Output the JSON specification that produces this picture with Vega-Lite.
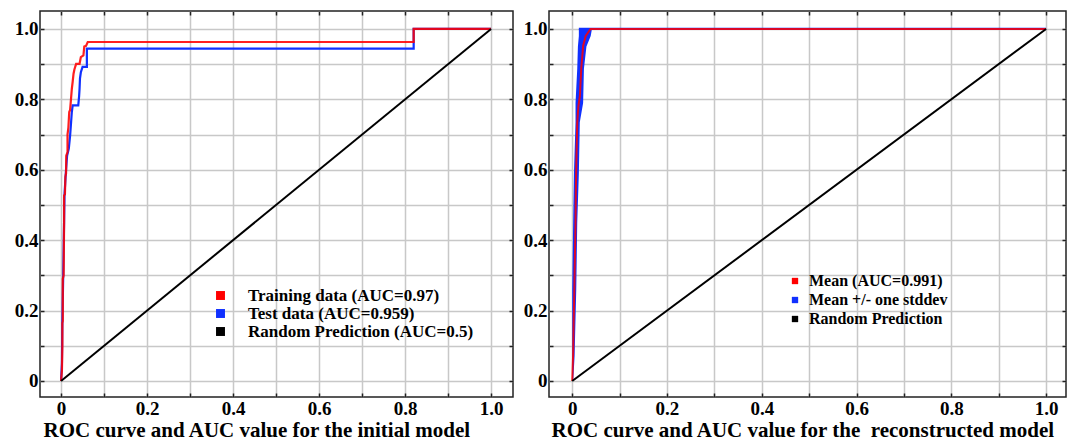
{
  "$schema": "https://vega.github.io/schema/vega-lite/v6.json",
  "padding": {"left": 13, "top": 9, "right": 0, "bottom": 0},
  "spacing": 7,
  "background": "white",
  "datasets": {
    "roc": [
      {"p": "L", "s": "train", "i": 0, "x": 0, "y": 0},
      {"p": "L", "s": "train", "i": 1, "x": 0.002, "y": 0.03},
      {"p": "L", "s": "train", "i": 2, "x": 0.003, "y": 0.1},
      {"p": "L", "s": "train", "i": 3, "x": 0.003, "y": 0.165},
      {"p": "L", "s": "train", "i": 4, "x": 0.004, "y": 0.17},
      {"p": "L", "s": "train", "i": 5, "x": 0.004, "y": 0.29},
      {"p": "L", "s": "train", "i": 6, "x": 0.006, "y": 0.3},
      {"p": "L", "s": "train", "i": 7, "x": 0.007, "y": 0.45},
      {"p": "L", "s": "train", "i": 8, "x": 0.007, "y": 0.527},
      {"p": "L", "s": "train", "i": 9, "x": 0.009, "y": 0.53},
      {"p": "L", "s": "train", "i": 10, "x": 0.01, "y": 0.58},
      {"p": "L", "s": "train", "i": 11, "x": 0.0116, "y": 0.59},
      {"p": "L", "s": "train", "i": 12, "x": 0.012, "y": 0.64},
      {"p": "L", "s": "train", "i": 13, "x": 0.015, "y": 0.65},
      {"p": "L", "s": "train", "i": 14, "x": 0.015, "y": 0.7},
      {"p": "L", "s": "train", "i": 15, "x": 0.017, "y": 0.72},
      {"p": "L", "s": "train", "i": 16, "x": 0.019, "y": 0.764},
      {"p": "L", "s": "train", "i": 17, "x": 0.021, "y": 0.77},
      {"p": "L", "s": "train", "i": 18, "x": 0.0225, "y": 0.792},
      {"p": "L", "s": "train", "i": 19, "x": 0.025, "y": 0.83},
      {"p": "L", "s": "train", "i": 20, "x": 0.027, "y": 0.85},
      {"p": "L", "s": "train", "i": 21, "x": 0.029, "y": 0.873},
      {"p": "L", "s": "train", "i": 22, "x": 0.031, "y": 0.885},
      {"p": "L", "s": "train", "i": 23, "x": 0.035, "y": 0.901},
      {"p": "L", "s": "train", "i": 24, "x": 0.043, "y": 0.901},
      {"p": "L", "s": "train", "i": 25, "x": 0.046, "y": 0.92},
      {"p": "L", "s": "train", "i": 26, "x": 0.052, "y": 0.925},
      {"p": "L", "s": "train", "i": 27, "x": 0.054, "y": 0.95},
      {"p": "L", "s": "train", "i": 28, "x": 0.058, "y": 0.952},
      {"p": "L", "s": "train", "i": 29, "x": 0.062, "y": 0.963},
      {"p": "L", "s": "train", "i": 30, "x": 0.82, "y": 0.963},
      {"p": "L", "s": "train", "i": 31, "x": 0.82, "y": 1.0},
      {"p": "L", "s": "train", "i": 32, "x": 1.0, "y": 1.0},
      {"p": "L", "s": "test", "i": 0, "x": 0, "y": 0},
      {"p": "L", "s": "test", "i": 1, "x": 0.002, "y": 0.05},
      {"p": "L", "s": "test", "i": 2, "x": 0.003, "y": 0.17},
      {"p": "L", "s": "test", "i": 3, "x": 0.005, "y": 0.3},
      {"p": "L", "s": "test", "i": 4, "x": 0.007, "y": 0.45},
      {"p": "L", "s": "test", "i": 5, "x": 0.008, "y": 0.53},
      {"p": "L", "s": "test", "i": 6, "x": 0.011, "y": 0.59},
      {"p": "L", "s": "test", "i": 7, "x": 0.014, "y": 0.64},
      {"p": "L", "s": "test", "i": 8, "x": 0.018, "y": 0.66},
      {"p": "L", "s": "test", "i": 9, "x": 0.021, "y": 0.697},
      {"p": "L", "s": "test", "i": 10, "x": 0.023, "y": 0.73},
      {"p": "L", "s": "test", "i": 11, "x": 0.025, "y": 0.764},
      {"p": "L", "s": "test", "i": 12, "x": 0.027, "y": 0.783},
      {"p": "L", "s": "test", "i": 13, "x": 0.04, "y": 0.783},
      {"p": "L", "s": "test", "i": 14, "x": 0.042, "y": 0.81},
      {"p": "L", "s": "test", "i": 15, "x": 0.043, "y": 0.83},
      {"p": "L", "s": "test", "i": 16, "x": 0.044, "y": 0.86},
      {"p": "L", "s": "test", "i": 17, "x": 0.046, "y": 0.877},
      {"p": "L", "s": "test", "i": 18, "x": 0.05, "y": 0.892},
      {"p": "L", "s": "test", "i": 19, "x": 0.06, "y": 0.892},
      {"p": "L", "s": "test", "i": 20, "x": 0.06, "y": 0.944},
      {"p": "L", "s": "test", "i": 21, "x": 0.82, "y": 0.944},
      {"p": "L", "s": "test", "i": 22, "x": 0.82, "y": 1.0},
      {"p": "L", "s": "test", "i": 23, "x": 1.0, "y": 1.0},
      {"p": "L", "s": "rand", "i": 0, "x": 0, "y": 0},
      {"p": "L", "s": "rand", "i": 1, "x": 1, "y": 1},
      {"p": "R", "s": "mean", "i": 0, "x": 0, "y": 0},
      {"p": "R", "s": "mean", "i": 1, "x": 0.002, "y": 0.08},
      {"p": "R", "s": "mean", "i": 2, "x": 0.003, "y": 0.165},
      {"p": "R", "s": "mean", "i": 3, "x": 0.0045, "y": 0.26},
      {"p": "R", "s": "mean", "i": 4, "x": 0.0057, "y": 0.355},
      {"p": "R", "s": "mean", "i": 5, "x": 0.007, "y": 0.45},
      {"p": "R", "s": "mean", "i": 6, "x": 0.0077, "y": 0.545},
      {"p": "R", "s": "mean", "i": 7, "x": 0.009, "y": 0.64},
      {"p": "R", "s": "mean", "i": 8, "x": 0.0106, "y": 0.735},
      {"p": "R", "s": "mean", "i": 9, "x": 0.013, "y": 0.78},
      {"p": "R", "s": "mean", "i": 10, "x": 0.0162, "y": 0.81},
      {"p": "R", "s": "mean", "i": 11, "x": 0.019, "y": 0.887},
      {"p": "R", "s": "mean", "i": 12, "x": 0.0232, "y": 0.953},
      {"p": "R", "s": "mean", "i": 13, "x": 0.0285, "y": 0.98},
      {"p": "R", "s": "mean", "i": 14, "x": 0.0387, "y": 1.0},
      {"p": "R", "s": "mean", "i": 15, "x": 1.0, "y": 1.0},
      {"p": "R", "s": "bandtop", "i": 0, "x": 0.014, "y": 1.0},
      {"p": "R", "s": "bandtop", "i": 1, "x": 1.0, "y": 1.0},
      {"p": "R", "s": "rand", "i": 0, "x": 0, "y": 0},
      {"p": "R", "s": "rand", "i": 1, "x": 1, "y": 1}
    ],
    "band": [
      {"y": 0, "xlo": 0, "xhi": 0.002},
      {"y": 0.07, "xlo": 0, "xhi": 0.005},
      {"y": 0.26, "xlo": 0, "xhi": 0.0085},
      {"y": 0.45, "xlo": 0.002, "xhi": 0.0106},
      {"y": 0.59, "xlo": 0.0036, "xhi": 0.014},
      {"y": 0.735, "xlo": 0.007, "xhi": 0.016},
      {"y": 0.79, "xlo": 0.007, "xhi": 0.023},
      {"y": 0.887, "xlo": 0.0106, "xhi": 0.0247},
      {"y": 0.95, "xlo": 0.012, "xhi": 0.03},
      {"y": 0.98, "xlo": 0.014, "xhi": 0.039},
      {"y": 1.0, "xlo": 0.014, "xhi": 0.0416}
    ],
    "legend": [
      {"p": "L", "name": "Training data (AUC=0.97)", "x": 0, "y": 0},
      {"p": "L", "name": "Test data (AUC=0.959)", "x": 0, "y": 0},
      {"p": "L", "name": "Random Prediction (AUC=0.5)", "x": 0, "y": 0},
      {"p": "R", "name": "Mean (AUC=0.991)", "x": 0, "y": 0},
      {"p": "R", "name": "Mean +/- one stddev", "x": 0, "y": 0},
      {"p": "R", "name": "Random Prediction", "x": 0, "y": 0}
    ]
  },
  "config": {
    "font": "Liberation Serif",
    "view": {"stroke": "#222222", "strokeWidth": 1.5},
    "axis": {
      "labelFont": "Liberation Serif", "labelFontWeight": "bold", "labelFontSize": 19, "labelColor": "#000000",
      "titleFont": "Liberation Serif", "titleFontWeight": "bold", "titleFontSize": 21, "titleColor": "#000000",
      "gridColor": "#c8c8c8", "gridWidth": 1.5, "gridOpacity": 1,
      "tickColor": "#222222", "tickSize": -4, "tickWidth": 1.5, "domain": false, "labelPadding": 6
    },
    "legend": {"labelFont": "Liberation Serif", "labelFontWeight": "bold", "labelColor": "#000000", "labelLimit": 0}
  },
  "hconcat": [
    {
      "width": 473, "height": 386,
      "resolve": {"axis": {"x": "independent", "y": "independent"}},
      "layer": [
        {
          "data": {"name": "roc"},
          "transform": [{"filter": "datum.p == 'L' && datum.s == 'test'"}],
          "mark": {"type": "line", "color": "#1030ff", "strokeWidth": 2.2},
          "encoding": {
            "x": {"field": "x", "type": "quantitative", "scale": {"domain": [-0.049, 1.051], "nice": false, "zero": false},
              "axis": {"values": [0, 0.1, 0.2, 0.3, 0.4, 0.5, 0.6, 0.7, 0.8, 0.9, 1.0], "grid": true,
                "labelExpr": "round(datum.value*10) % 2 == 0 ? (datum.value == 0 ? '0' : format(datum.value, '.1f')) : ''",
                "title": "ROC curve and AUC value for the initial model", "titleAnchor": "start", "titleX": 3, "titleAlign": "left", "titlePadding": 1}},
            "y": {"field": "y", "type": "quantitative", "scale": {"domain": [-0.0455, 1.051], "nice": false, "zero": false},
              "axis": {"values": [0, 0.1, 0.2, 0.3, 0.4, 0.5, 0.6, 0.7, 0.8, 0.9, 1.0], "grid": true, "title": null,
                "labelExpr": "round(datum.value*10) % 2 == 0 ? (datum.value == 0 ? '0' : format(datum.value, '.1f')) : ''"}},
            "order": {"field": "i", "type": "quantitative"}
          }
        },
        {
          "data": {"name": "roc"},
          "transform": [{"filter": "datum.p == 'L' && datum.s == 'train'"}],
          "mark": {"type": "line", "color": "#ff0000", "strokeWidth": 2.2, "opacity": 0.88},
          "encoding": {
            "x": {"field": "x", "type": "quantitative", "axis": null},
            "y": {"field": "y", "type": "quantitative", "axis": null},
            "order": {"field": "i", "type": "quantitative"}
          }
        },
        {
          "data": {"name": "roc"},
          "transform": [{"filter": "datum.p == 'L' && datum.s == 'rand'"}],
          "mark": {"type": "line", "color": "#000000", "strokeWidth": 2},
          "encoding": {
            "x": {"field": "x", "type": "quantitative",
              "axis": {"orient": "top", "values": [0, 0.1, 0.2, 0.3, 0.4, 0.5, 0.6, 0.7, 0.8, 0.9, 1.0], "grid": false, "labels": false, "title": null}},
            "y": {"field": "y", "type": "quantitative",
              "axis": {"orient": "right", "values": [0, 0.1, 0.2, 0.3, 0.4, 0.5, 0.6, 0.7, 0.8, 0.9, 1.0], "grid": false, "labels": false, "title": null}},
            "order": {"field": "i", "type": "quantitative"}
          }
        },
        {
          "data": {"name": "legend"},
          "transform": [{"filter": "datum.p == 'L'"}],
          "mark": {"type": "point", "shape": "square", "filled": true, "opacity": 0},
          "encoding": {
            "x": {"field": "x", "type": "quantitative", "axis": null},
            "y": {"field": "y", "type": "quantitative", "axis": null},
            "fill": {"field": "name", "type": "nominal",
              "scale": {"domain": ["Training data (AUC=0.97)", "Test data (AUC=0.959)", "Random Prediction (AUC=0.5)"], "range": ["#ff0000", "#1030ff", "#000000"]},
              "legend": {"title": null, "orient": "none", "legendX": 172, "legendY": 276, "symbolType": "square", "symbolSize": 80,
                "symbolOpacity": 1, "symbolStrokeWidth": 0, "labelFontSize": 17, "labelOffset": 19, "rowPadding": 0}}
          }
        }
      ]
    },
    {
      "width": 517, "height": 386,
      "resolve": {"axis": {"x": "independent", "y": "independent"}},
      "layer": [
        {
          "data": {"name": "band"},
          "mark": {"type": "area", "orient": "horizontal", "color": "#1030ff", "opacity": 1},
          "encoding": {
            "y": {"field": "y", "type": "quantitative", "scale": {"domain": [-0.0455, 1.051], "nice": false, "zero": false},
              "axis": {"values": [0, 0.1, 0.2, 0.3, 0.4, 0.5, 0.6, 0.7, 0.8, 0.9, 1.0], "grid": true, "title": null,
                "labelExpr": "round(datum.value*10) % 2 == 0 ? (datum.value == 0 ? '0' : format(datum.value, '.1f')) : ''"}},
            "x": {"field": "xlo", "type": "quantitative", "scale": {"domain": [-0.049, 1.042], "nice": false, "zero": false},
              "axis": {"values": [0, 0.1, 0.2, 0.3, 0.4, 0.5, 0.6, 0.7, 0.8, 0.9, 1.0], "grid": true,
                "labelExpr": "round(datum.value*10) % 2 == 0 ? (datum.value == 0 ? '0' : format(datum.value, '.1f')) : ''",
                "title": "ROC curve and AUC value for the\u00a0 reconstructed model", "titleAnchor": "start", "titleX": 2, "titleAlign": "left", "titlePadding": 1}},
            "x2": {"field": "xhi"}
          }
        },
        {
          "data": {"name": "roc"},
          "transform": [{"filter": "datum.p == 'R' && datum.s == 'bandtop'"}],
          "mark": {"type": "line", "color": "#1030ff", "strokeWidth": 2.2},
          "encoding": {
            "x": {"field": "x", "type": "quantitative", "axis": null},
            "y": {"field": "y", "type": "quantitative", "axis": null},
            "order": {"field": "i", "type": "quantitative"}
          }
        },
        {
          "data": {"name": "roc"},
          "transform": [{"filter": "datum.p == 'R' && datum.s == 'mean'"}],
          "mark": {"type": "line", "color": "#ff0000", "strokeWidth": 2, "opacity": 0.85},
          "encoding": {
            "x": {"field": "x", "type": "quantitative", "axis": null},
            "y": {"field": "y", "type": "quantitative", "axis": null},
            "order": {"field": "i", "type": "quantitative"}
          }
        },
        {
          "data": {"name": "roc"},
          "transform": [{"filter": "datum.p == 'R' && datum.s == 'rand'"}],
          "mark": {"type": "line", "color": "#000000", "strokeWidth": 2},
          "encoding": {
            "x": {"field": "x", "type": "quantitative",
              "axis": {"orient": "top", "values": [0, 0.1, 0.2, 0.3, 0.4, 0.5, 0.6, 0.7, 0.8, 0.9, 1.0], "grid": false, "labels": false, "title": null}},
            "y": {"field": "y", "type": "quantitative",
              "axis": {"orient": "right", "values": [0, 0.1, 0.2, 0.3, 0.4, 0.5, 0.6, 0.7, 0.8, 0.9, 1.0], "grid": false, "labels": false, "title": null}},
            "order": {"field": "i", "type": "quantitative"}
          }
        },
        {
          "data": {"name": "legend"},
          "transform": [{"filter": "datum.p == 'R'"}],
          "mark": {"type": "point", "shape": "square", "filled": true, "opacity": 0},
          "encoding": {
            "x": {"field": "x", "type": "quantitative", "axis": null},
            "y": {"field": "y", "type": "quantitative", "axis": null},
            "fill": {"field": "name", "type": "nominal",
              "scale": {"domain": ["Mean (AUC=0.991)", "Mean +/- one stddev", "Random Prediction"], "range": ["#ff0000", "#1030ff", "#000000"]},
              "legend": {"title": null, "orient": "none", "legendX": 238, "legendY": 262, "symbolType": "square", "symbolSize": 40,
                "symbolOpacity": 1, "symbolStrokeWidth": 0, "labelFontSize": 16, "labelOffset": 6, "rowPadding": 3}}
          }
        }
      ]
    }
  ],
  "resolve": {"scale": {"fill": "independent", "x": "independent", "y": "independent"}, "legend": {"fill": "independent"}}
}
